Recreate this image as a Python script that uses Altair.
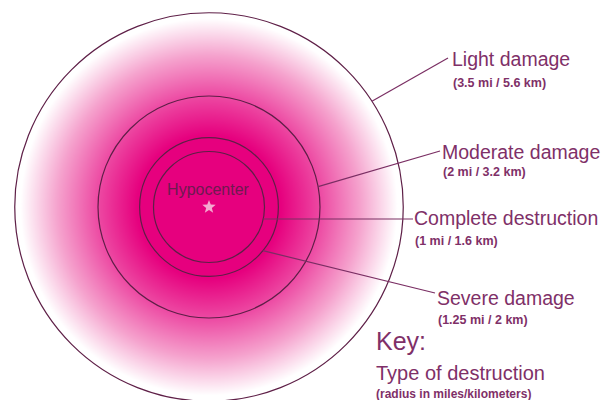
import math
import altair as alt
import pandas as pd

# ---------------- data ----------------
zones = ["Complete destruction", "Severe damage", "Moderate damage", "Light damage"]
radius_mi = [1.0, 1.25, 2.0, 3.5]
radius_km = [1.6, 2.0, 3.2, 5.6]
sub_labels = ["(1 mi / 1.6 km)", "(1.25 mi / 2 km)", "(2 mi / 3.2 km)", "(3.5 mi / 5.6 km)"]
center_label = "Hypocenter"
key_title = "Key:"
key_subtitle = "Type of destruction"
key_note = "(radius in miles/kilometers)"

# ---------------- layout / style ----------------
W, H = 594, 392
PX_PER_MI = 55.5
CX, CY = 201, 199            # hypocenter in chart pixels
X_DOM = [-CX / PX_PER_MI, (W - CX) / PX_PER_MI]
Y_DOM = [-(H - CY) / PX_PER_MI, CY / PX_PER_MI]
MAX_R = max(radius_mi)

MAGENTA = "#e6007e"
RING = "#5e1f47"
LEADER = "#7a2e63"
TEXT = "#7f3068"
FONT = "Liberation Sans"

# leader start angle on each ring (deg, ccw from east) and label anchors (chart px)
leader_angle = [-12.5, -39.0, 10.6, 33.0]
leader_end_px = [(405, 211), (427, 285), (432, 143), (440, 50)]
main_pos = [(406, 217), (429, 297), (434, 151), (444, 58)]
sub_pos = [(407, 237), (430, 316), (435, 168), (445, 79)]

xs = alt.Scale(domain=X_DOM, nice=False, zero=False)
ys = alt.Scale(domain=Y_DOM, nice=False, zero=False)
size_scale = alt.Scale(type="pow", exponent=2, domain=[0, MAX_R],
                       range=[0, (2 * MAX_R * PX_PER_MI) ** 2])

rings_df = pd.DataFrame({"zone": zones, "r": radius_mi, "km": radius_km,
                         "cx": [0.0] * 4, "cy": [0.0] * 4})

gradient = {
    "gradient": "radial",
    "x1": 0.5, "y1": 0.5, "r1": 0,
    "x2": 0.5, "y2": 0.5, "r2": 0.5,
    "stops": [
        {"offset": 0.0, "color": MAGENTA},
        {"offset": 0.37, "color": MAGENTA},
        {"offset": 0.58, "color": "#ed4ca4"},
        {"offset": 0.78, "color": "#f5a2cd"},
        {"offset": 0.97, "color": "#ffffff"},
        {"offset": 1.0, "color": "#ffffff"},
    ],
}

enc_pos = dict(x=alt.X("cx:Q", scale=xs, axis=None), y=alt.Y("cy:Q", scale=ys, axis=None))

disk = alt.Chart(rings_df[rings_df.r == MAX_R]).mark_point(
    shape="circle", filled=True, fill=gradient, strokeWidth=0, opacity=1
).encode(size=alt.Size("r:Q", scale=size_scale, legend=None), **enc_pos)

rings = alt.Chart(rings_df).mark_point(
    shape="circle", filled=False, stroke=RING, strokeWidth=1.2, opacity=1
).encode(size=alt.Size("r:Q", scale=size_scale, legend=None), **enc_pos)

# leader lines
lx, ly, lx2, ly2 = [], [], [], []
for r, a, (ex, ey) in zip(radius_mi, leader_angle, leader_end_px):
    lx.append(r * math.cos(math.radians(a)))
    ly.append(r * math.sin(math.radians(a)))
    lx2.append((ex - CX) / PX_PER_MI)
    ly2.append((CY - ey) / PX_PER_MI)
leaders_df = pd.DataFrame({"zone": zones, "x": lx, "y": ly, "x2": lx2, "y2": ly2})
leaders = alt.Chart(leaders_df).mark_rule(color=LEADER, strokeWidth=1.2).encode(
    x=alt.X("x:Q", scale=xs, axis=None), y=alt.Y("y:Q", scale=ys, axis=None),
    x2="x2:Q", y2="y2:Q")

# star at hypocenter
pts = []
for k in range(10):
    ang = math.radians(-90 + 36 * k)
    rr = 1.0 if k % 2 == 0 else 0.42
    pts.append(f"{rr * math.cos(ang):.3f},{rr * math.sin(ang):.3f}")
star_path = "M" + " L".join(pts) + " Z"
star = alt.Chart(rings_df.iloc[:1]).mark_point(
    shape=star_path, filled=True, fill="#f4a9d0", strokeWidth=0, opacity=1, size=200
).encode(**enc_pos)

# text
main_df = pd.DataFrame({"t": zones, "px": [p[0] for p in main_pos], "py": [p[1] for p in main_pos]})
sub_df = pd.DataFrame({"t": sub_labels, "px": [p[0] for p in sub_pos], "py": [p[1] for p in sub_pos]})
tx = dict(x=alt.X("px:Q", scale=None), y=alt.Y("py:Q", scale=None), text="t:N")

main_txt = alt.Chart(main_df).mark_text(align="left", baseline="alphabetic", font=FONT,
                                        fontSize=19.5, color=TEXT).encode(**tx)
sub_txt = alt.Chart(sub_df).mark_text(align="left", baseline="alphabetic", font=FONT,
                                      fontSize=12.5, fontWeight="bold", color=TEXT).encode(**tx)

key_df = pd.DataFrame({"t": [key_title], "px": [368], "py": [342]})
key_txt = alt.Chart(key_df).mark_text(align="left", baseline="alphabetic", font=FONT,
                                      fontSize=25, color=TEXT).encode(**tx)
ksub_df = pd.DataFrame({"t": [key_subtitle], "px": [368], "py": [372]})
ksub_txt = alt.Chart(ksub_df).mark_text(align="left", baseline="alphabetic", font=FONT,
                                        fontSize=20, color=TEXT).encode(**tx)
knote_df = pd.DataFrame({"t": [key_note], "px": [368], "py": [390]})
knote_txt = alt.Chart(knote_df).mark_text(align="left", baseline="alphabetic", font=FONT,
                                          fontSize=12, fontWeight="bold", color=TEXT).encode(**tx)
hypo_df = pd.DataFrame({"t": [center_label], "px": [200], "py": [187]})
hypo_txt = alt.Chart(hypo_df).mark_text(align="center", baseline="alphabetic", font=FONT,
                                        fontSize=16, color="#6e1a50").encode(**tx)

chart = alt.layer(
    disk, rings, leaders, star, hypo_txt, main_txt, sub_txt, key_txt, ksub_txt, knote_txt
).properties(
    width=W, height=H, padding=0, autosize=alt.AutoSizeParams(type="none"),
    background="white"
).configure_view(strokeWidth=0)

chart.save("out.html", embed_options={"renderer": "svg", "actions": False})
